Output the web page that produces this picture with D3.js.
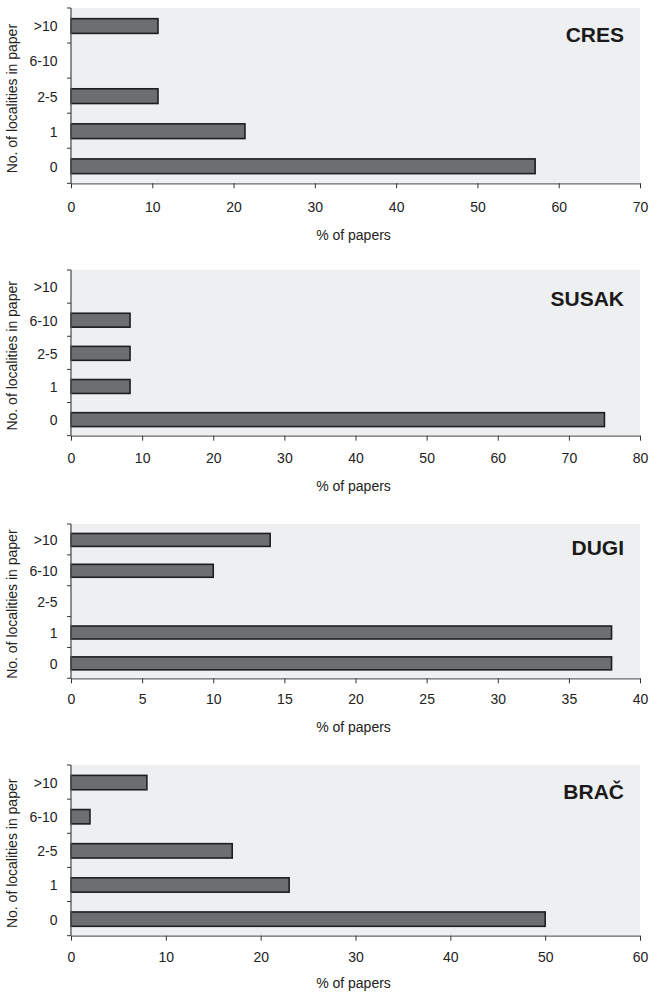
<!DOCTYPE html>
<html>
<head>
<meta charset="utf-8">
<script src="https://cdn.jsdelivr.net/npm/d3@7"></script>
<style>
  body { margin: 0; background: #fff; }
  svg { display: block; font-family: "Liberation Sans", Arial, sans-serif; }
  .tick text { fill: #222; font-size: 14px; }
</style>
</head>
<body>
<svg id="chart" width="649" height="992"></svg>
<script>
// data
const categories = [">10", "6-10", "2-5", "1", "0"];
const islands = ["CRES", "SUSAK", "DUGI", "BRAČ"];
const cresValues = [10.7, 0, 10.7, 21.4, 57.1];
const susakValues = [0, 8.3, 8.3, 8.3, 75];
const dugiValues = [14, 10, 0, 38, 38];
const bracValues = [8, 2, 17, 23, 50];
const xMaxima = [70, 80, 40, 60];
const xSteps = [10, 10, 5, 10];

const seriesList = [cresValues, susakValues, dugiValues, bracValues];

// layout of the four panels
const plotLeft = 71, plotRight = 640;
const panelTops = [8, 270, 524, 765];
const panelBottoms = [183.3, 435.7, 678.3, 935.7];
const tickGaps = [13.4, 12.3, 10.7, 11];
const titleGaps = [56.7, 55, 54, 52];
const nameBaselines = [41.7, 306, 555, 799.3];

const svg = d3.select("#chart");

islands.forEach((name, i) => {
  const top = panelTops[i], bottom = panelBottoms[i];
  const g = svg.append("g");

  const x = d3.scaleLinear().domain([0, xMaxima[i]]).range([plotLeft, plotRight]);
  const y = d3.scaleBand().domain(categories).range([top, bottom]).paddingInner(0.58).paddingOuter(0.29);
  const yb = d3.scaleBand().domain(categories).range([top, bottom]);

  // plot background
  g.append("rect")
    .attr("x", plotLeft).attr("y", top)
    .attr("width", plotRight - plotLeft).attr("height", bottom - top)
    .attr("fill", "#eeeff1");

  // bars
  const data = categories.map((c, j) => ({ cat: c, val: seriesList[i][j] })).filter(d => d.val > 0);
  g.selectAll("rect.bar")
    .data(data)
    .enter()
    .append("rect")
    .attr("class", "bar")
    .attr("x", x(0))
    .attr("y", d => y(d.cat) + 0.5)
    .attr("width", d => x(d.val) - x(0))
    .attr("height", y.bandwidth())
    .attr("fill", "#6d6e72")
    .attr("stroke", "#1e1e1e")
    .attr("stroke-width", 1.6);

  // x axis
  const xAxis = g.append("g")
    .attr("transform", `translate(0,${bottom})`)
    .call(d3.axisBottom(x).tickValues(d3.range(0, xMaxima[i] + 0.001, xSteps[i])).tickSize(5).tickPadding(tickGaps[i]).tickSizeOuter(0));
  xAxis.select(".domain").attr("stroke", "#666").attr("stroke-width", 1.3);
  xAxis.selectAll(".tick line").attr("stroke", "#333");

  // y axis: ticks on category boundaries, labels in the middle of each band
  const yAxis = g.append("g").attr("transform", `translate(${plotLeft},0)`);
  yAxis.append("line")
    .attr("x1", 0).attr("x2", 0).attr("y1", top).attr("y2", bottom)
    .attr("stroke", "#555").attr("stroke-width", 1.3);
  const bounds = categories.map(c => yb(c)).concat([bottom]);
  yAxis.selectAll("line.ytick")
    .data(bounds)
    .enter()
    .append("line")
    .attr("class", "ytick")
    .attr("x1", -4).attr("x2", 0)
    .attr("y1", d => d).attr("y2", d => d)
    .attr("stroke", "#333").attr("stroke-width", 1);
  yAxis.selectAll("text")
    .data(categories)
    .enter()
    .append("text")
    .attr("x", -13.5)
    .attr("y", d => yb(d) + yb.bandwidth() / 2 + 1)
    .attr("dy", "0.35em")
    .attr("text-anchor", "end")
    .attr("fill", "#222")
    .attr("font-size", "14px")
    .text(d => d);

  // axis titles
  g.append("text")
    .attr("x", (plotLeft + plotRight) / 2 - 2)
    .attr("y", bottom + titleGaps[i])
    .attr("text-anchor", "middle")
    .attr("fill", "#222")
    .attr("font-size", "14px")
    .text("% of papers");

  g.append("text")
    .attr("transform", `translate(17,${(top + bottom) / 2 + 3}) rotate(-90)`)
    .attr("text-anchor", "middle")
    .attr("fill", "#222")
    .attr("font-size", "14px")
    .text("No. of localities in paper");

  // island name
  g.append("text")
    .attr("x", 624)
    .attr("y", nameBaselines[i])
    .attr("text-anchor", "end")
    .attr("fill", "#1a1a1a")
    .attr("font-size", "21px")
    .attr("font-weight", "bold")
    .text(name);
});
</script>
</body>
</html>
